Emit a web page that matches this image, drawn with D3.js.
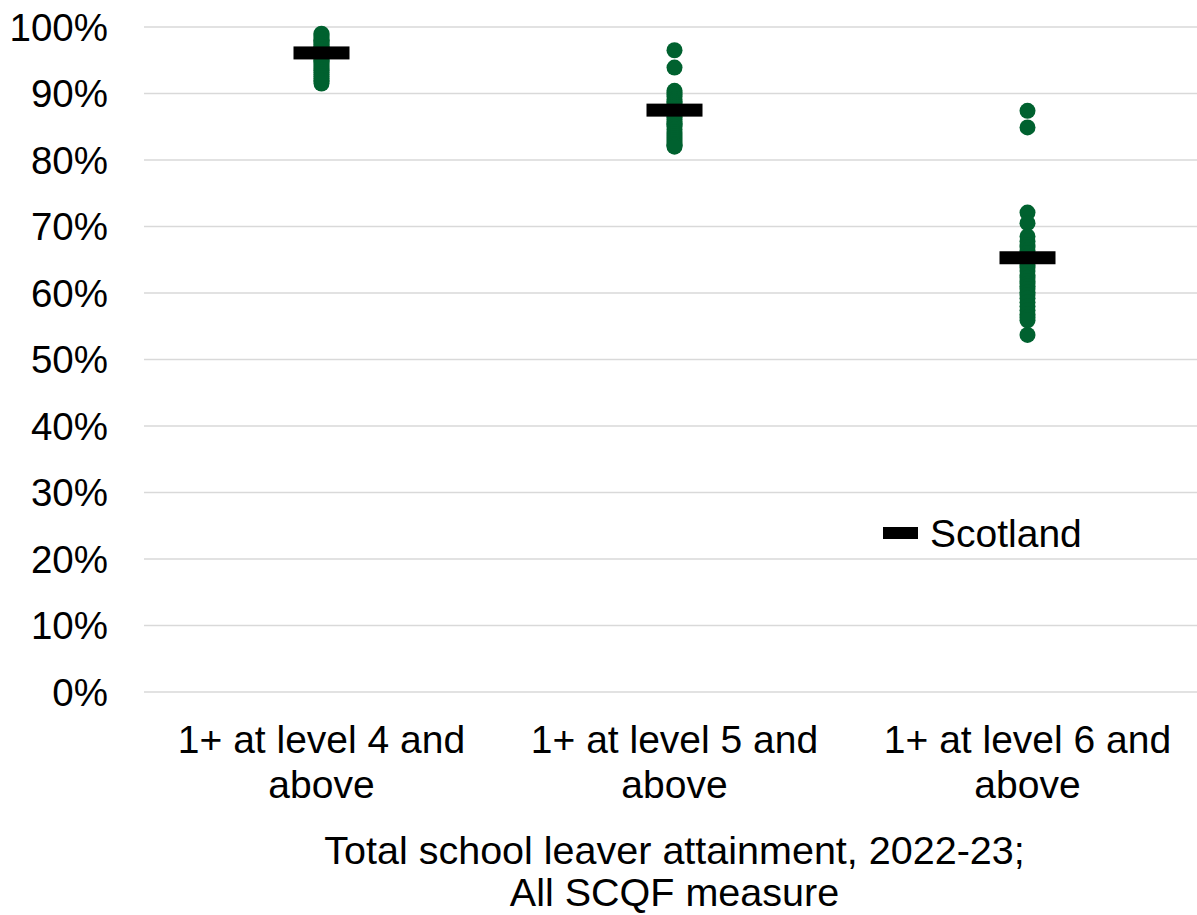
<!DOCTYPE html>
<html>
<head>
<meta charset="utf-8">
<script src="https://cdn.jsdelivr.net/npm/d3@7"></script>
<style>
  html, body { margin: 0; padding: 0; background: #ffffff; }
  svg { display: block; font-family: "Liberation Sans", Arial, sans-serif; }
</style>
</head>
<body>
<svg id="chart" width="1197" height="915"></svg>
<script>
// ---- Data ----
const categories = ["1+ at level 4 and above", "1+ at level 5 and above", "1+ at level 6 and above"];
const categoryLines = [["1+ at level 4 and", "above"], ["1+ at level 5 and", "above"], ["1+ at level 6 and", "above"]];
const level4Values = [99.0, 98.8, 98.5, 98.2, 98.0, 97.8, 97.6, 97.4, 97.1, 96.9, 96.7, 96.5, 96.3, 96.1, 95.9, 95.7,
                      95.5, 95.3, 95.0, 94.8, 94.6, 94.3, 94.0, 93.7, 93.5, 93.2, 92.9, 92.6, 92.3, 92.0, 91.8, 91.5];
const level5Values = [96.5, 93.9, 90.4, 90.1, 89.8, 89.5, 89.1, 88.8, 88.6, 88.3, 88.0, 87.7, 87.5, 87.2, 86.9, 86.6,
                      86.4, 86.1, 85.8, 85.5, 85.3, 85.0, 84.6, 84.2, 83.9, 83.6, 83.3, 83.0, 82.7, 82.4, 82.2, 82.0];
const level6Values = [87.4, 84.9, 72.1, 70.5, 68.5, 67.8, 67.2, 66.9, 66.4, 66.0, 65.5, 65.1, 64.6, 64.2, 63.8, 63.3,
                      62.7, 62.3, 61.8, 61.4, 61.0, 60.6, 60.1, 59.7, 59.2, 58.6, 58.0, 57.4, 56.8, 56.3, 55.9, 53.7];
const scotlandValues = [96.1, 87.5, 65.3];
const yTicks = [0, 10, 20, 30, 40, 50, 60, 70, 80, 90, 100];
const xTitleLines = ["Total school leaver attainment, 2022-23;", "All SCQF measure"];
const legendLabel = "Scotland";

const councilSeries = [level4Values, level5Values, level6Values];

// ---- Layout ----
const svg = d3.select("#chart");
const W = 1197;
const fontSize = 38.5;
const catFont = 39;
const titleFont = 39.5;
const green = "#00612f";
const x = d3.scaleBand().domain(categories).range([145, 1204]).padding(0);
const y = d3.scaleLinear().domain([0, 100]).range([692, 27]);

// gridlines
svg.append("g").selectAll("line").data(yTicks).join("line")
  .attr("x1", 144).attr("x2", W)
  .attr("y1", d => y(d)).attr("y2", d => y(d))
  .attr("stroke", "#d9d9d9").attr("stroke-width", 1.5);

// y axis labels
const yAxis = d3.axisLeft(y).tickValues(yTicks).tickFormat(d => d + "%").tickSize(0).tickPadding(0);
const yg = svg.append("g").attr("transform", "translate(108,0)").call(yAxis);
yg.select(".domain").remove();
yg.selectAll("text").attr("font-size", fontSize).attr("fill", "#000")
  .attr("font-family", "Liberation Sans, Arial, sans-serif").attr("dy", "0.35em");

// dots
categories.forEach((c, i) => {
  svg.append("g").selectAll("circle").data(councilSeries[i]).join("circle")
    .attr("cx", x(c) + x.bandwidth() / 2)
    .attr("cy", d => y(d))
    .attr("r", 8)
    .attr("fill", green);
});

// Scotland markers
const markW = 56, markH = 13;
svg.append("g").selectAll("rect").data(scotlandValues).join("rect")
  .attr("x", (d, i) => x(categories[i]) + x.bandwidth() / 2 - markW / 2)
  .attr("y", d => y(d) - markH / 2)
  .attr("width", markW).attr("height", markH)
  .attr("fill", "#000");

// category labels
const catG = svg.append("g");
categories.forEach((c, i) => {
  const t = catG.append("text")
    .attr("x", x(c) + x.bandwidth() / 2)
    .attr("text-anchor", "middle")
    .attr("font-size", catFont).attr("fill", "#000");
  categoryLines[i].forEach((ln, j) => {
    t.append("tspan").attr("x", x(c) + x.bandwidth() / 2).attr("y", 753 + j * 45).text(ln);
  });
});

// axis title
const xc = (x.range()[0] + x.range()[1]) / 2;
const tt = svg.append("text").attr("text-anchor", "middle").attr("font-size", titleFont).attr("fill", "#000");
xTitleLines.forEach((ln, j) => {
  tt.append("tspan").attr("x", xc).attr("y", 864 + j * 42).text(ln);
});

// legend
svg.append("rect").attr("x", 883).attr("y", 527).attr("width", 35).attr("height", 12).attr("fill", "#000");
svg.append("text").attr("x", 930).attr("y", 547).attr("font-size", catFont).attr("fill", "#000").text(legendLabel);
</script>
</body>
</html>
